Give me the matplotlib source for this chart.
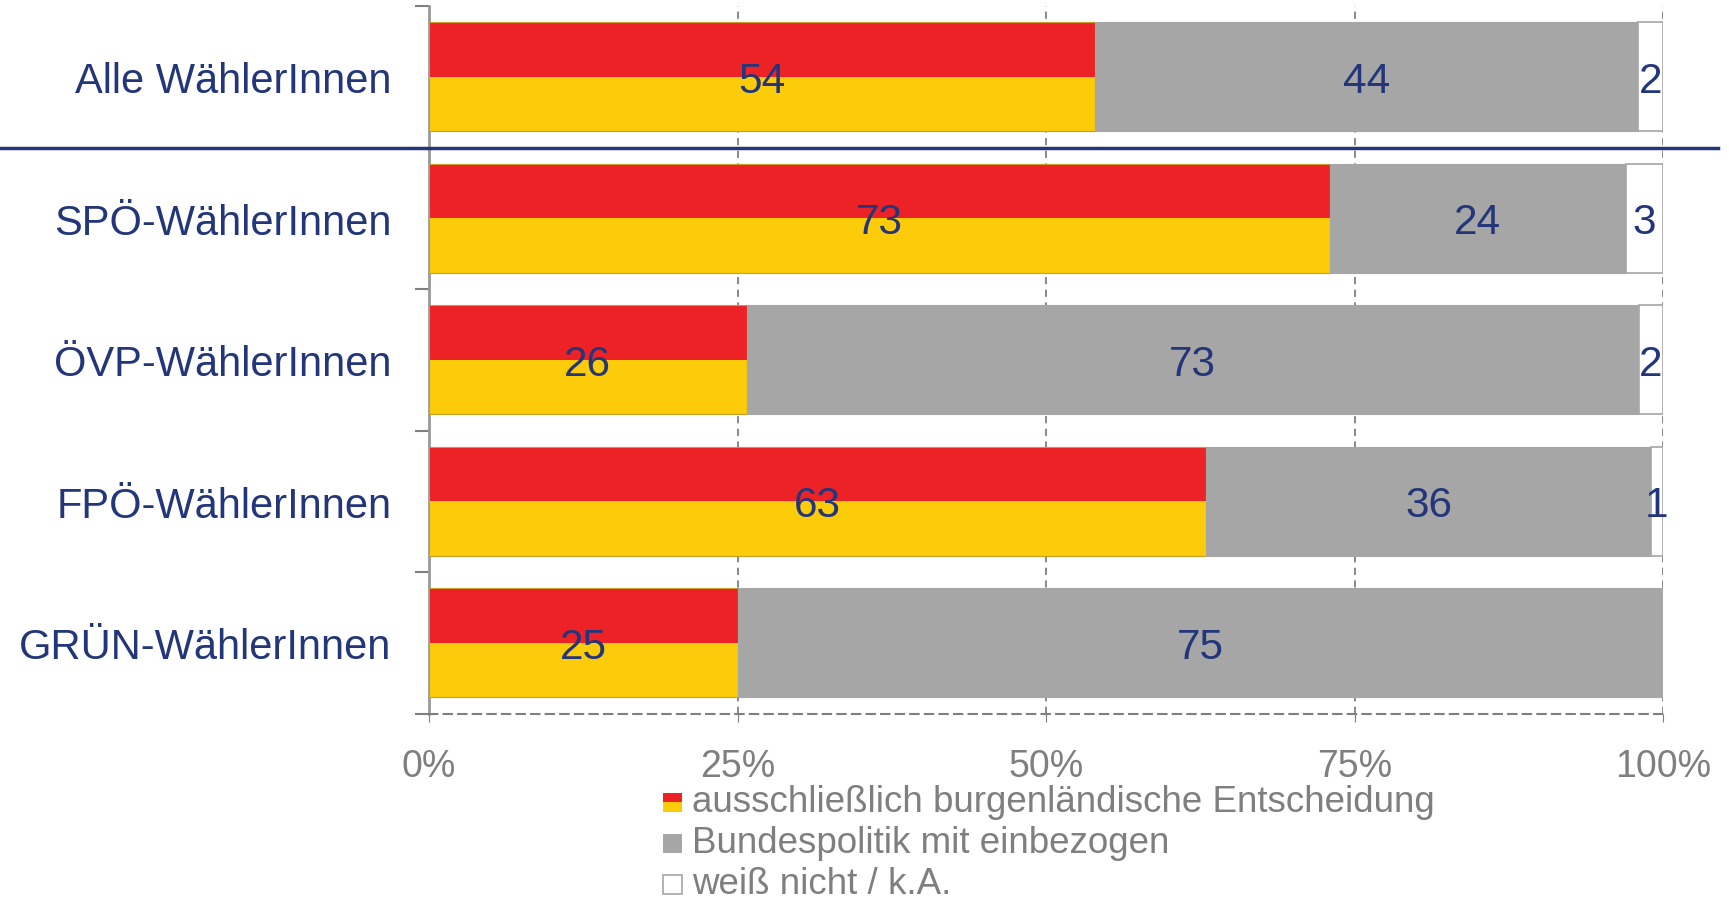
import matplotlib
matplotlib.use("Agg")
import matplotlib.pyplot as plt
import matplotlib.transforms as mtransforms
from matplotlib.lines import Line2D
from matplotlib.patches import Rectangle
import numpy as np

plt.rcParams['font.family'] = ['Liberation Sans', 'DejaVu Sans']

categories = ["Alle WählerInnen", "SPÖ-WählerInnen", "ÖVP-WählerInnen", "FPÖ-WählerInnen", "GRÜN-WählerInnen"]
burgenland = [54, 73, 26, 63, 25]
bund = [44, 24, 73, 36, 75]
weiss_nicht = [2, 3, 2, 1, 0]
x_ticks = [0, 25, 50, 75, 100]
x_tick_labels = ["0%", "25%", "50%", "75%", "100%"]
legend_labels = ["ausschließlich burgenländische Entscheidung", "Bundespolitik mit einbezogen", "weiß nicht / k.A."]

RED = "#EC2227"
YELLOW = "#FCCB0A"
GRAY = "#A6A6A6"
NAVY = "#23367A"
TXTGRAY = "#7F7F7F"

W, H = 1729, 903
fig = plt.figure(figsize=(W / 100, H / 100), dpi=100)
ax = fig.add_axes([429 / W, 1 - 714.5 / H, (1663 - 429) / W, (714.5 - 7) / H])

y = np.arange(len(categories))
bh = 0.77
v1 = np.array(burgenland, dtype=float)
v2 = np.array(bund, dtype=float)
v3 = np.array(weiss_nicht, dtype=float)
tot = v1 + v2 + v3
# 100%-stacked: each row scaled to its own total
b1 = v1 / tot * 100
b2 = v2 / tot * 100
b3 = v3 / tot * 100

# red/yellow split bar (top half red, bottom half yellow)
ax.barh(y - bh / 4, b1, height=bh / 2, color=RED, edgecolor="none", zorder=3)
ax.barh(y + bh / 4, b1, height=bh / 2, color=YELLOW, edgecolor="none", zorder=3)
ax.barh(y, b1, height=bh, color="none", edgecolor="#C8A020", linewidth=0.8, zorder=3)
ax.barh(y, b2, left=b1, height=bh, color=GRAY, edgecolor=GRAY, linewidth=0.8, zorder=3)
ax.barh(y, b3, left=b1 + b2, height=bh, color="white", edgecolor=GRAY, linewidth=1.2, zorder=3)

for i in range(len(categories)):
    lefts = [0, b1[i], b1[i] + b2[i]]
    widths = [b1[i], b2[i], b3[i]]
    vals = [v1[i], v2[i], v3[i]]
    for l, w, v in zip(lefts, widths, vals):
        if v > 0:
            ax.text(l + w / 2, y[i] + 0.03, f"{int(v)}", ha="center", va="center",
                    fontsize=30.5, color=NAVY, zorder=5)

ax.set_xlim(0, 100)
ax.set_ylim(len(categories) - 0.5, -0.5)

ax.set_xticks(x_ticks)
ax.set_xticklabels(x_tick_labels, fontsize=27, color=TXTGRAY)
ax.tick_params(axis="x", length=6, color=TXTGRAY, pad=19, direction="out")

ax.set_yticks(np.arange(len(categories) + 1) - 0.5)
ax.set_yticklabels([])
ax.set_yticks(y, minor=True)
ax.set_yticklabels(categories, minor=True, fontsize=30, color=NAVY)
ax.tick_params(axis="y", which="major", length=10, color=TXTGRAY, width=1.5)
ax.tick_params(axis="y", which="minor", length=0, pad=27)

for s in ["top", "right"]:
    ax.spines[s].set_visible(False)
ax.spines["left"].set_color("#999999")
ax.spines["left"].set_linewidth(2)
ax.spines["bottom"].set_color(TXTGRAY)
ax.spines["bottom"].set_linewidth(1.5)
ax.spines["bottom"].set_linestyle((0, (4, 3)))

ax.grid(axis="x", color=TXTGRAY, linestyle=(0, (4, 3)), linewidth=1.3, zorder=0)
ax.set_axisbelow(True)

# separator line under "Alle WählerInnen"
trans = mtransforms.blended_transform_factory(fig.transFigure, ax.transData)
fig.add_artist(Line2D([0, 1718 / W], [0.5, 0.5], transform=trans, color=NAVY, linewidth=2.5, zorder=10))

# legend drawn manually
leg_ys = [803, 844, 885]
sq = 19
x0 = 663
for k, (lab, yy) in enumerate(zip(legend_labels, leg_ys)):
    y0 = H - yy - sq / 2
    if k == 0:
        fig.add_artist(Rectangle((x0 / W, (y0 + sq / 2) / H), sq / W, sq / 2 / H, transform=fig.transFigure,
                                 facecolor=RED, edgecolor="none"))
        fig.add_artist(Rectangle((x0 / W, y0 / H), sq / W, sq / 2 / H, transform=fig.transFigure,
                                 facecolor=YELLOW, edgecolor="none"))
    elif k == 1:
        fig.add_artist(Rectangle((x0 / W, y0 / H), sq / W, sq / H, transform=fig.transFigure,
                                 facecolor=GRAY, edgecolor="none"))
    else:
        fig.add_artist(Rectangle((x0 / W, y0 / H), sq / W, sq / H, transform=fig.transFigure,
                                 facecolor="white", edgecolor=GRAY, linewidth=1.2))
    fig.text(692 / W, 1 - yy / H, lab, fontsize=26.5, color=TXTGRAY, ha="left", va="center")

fig.savefig("out.png", dpi=100)
